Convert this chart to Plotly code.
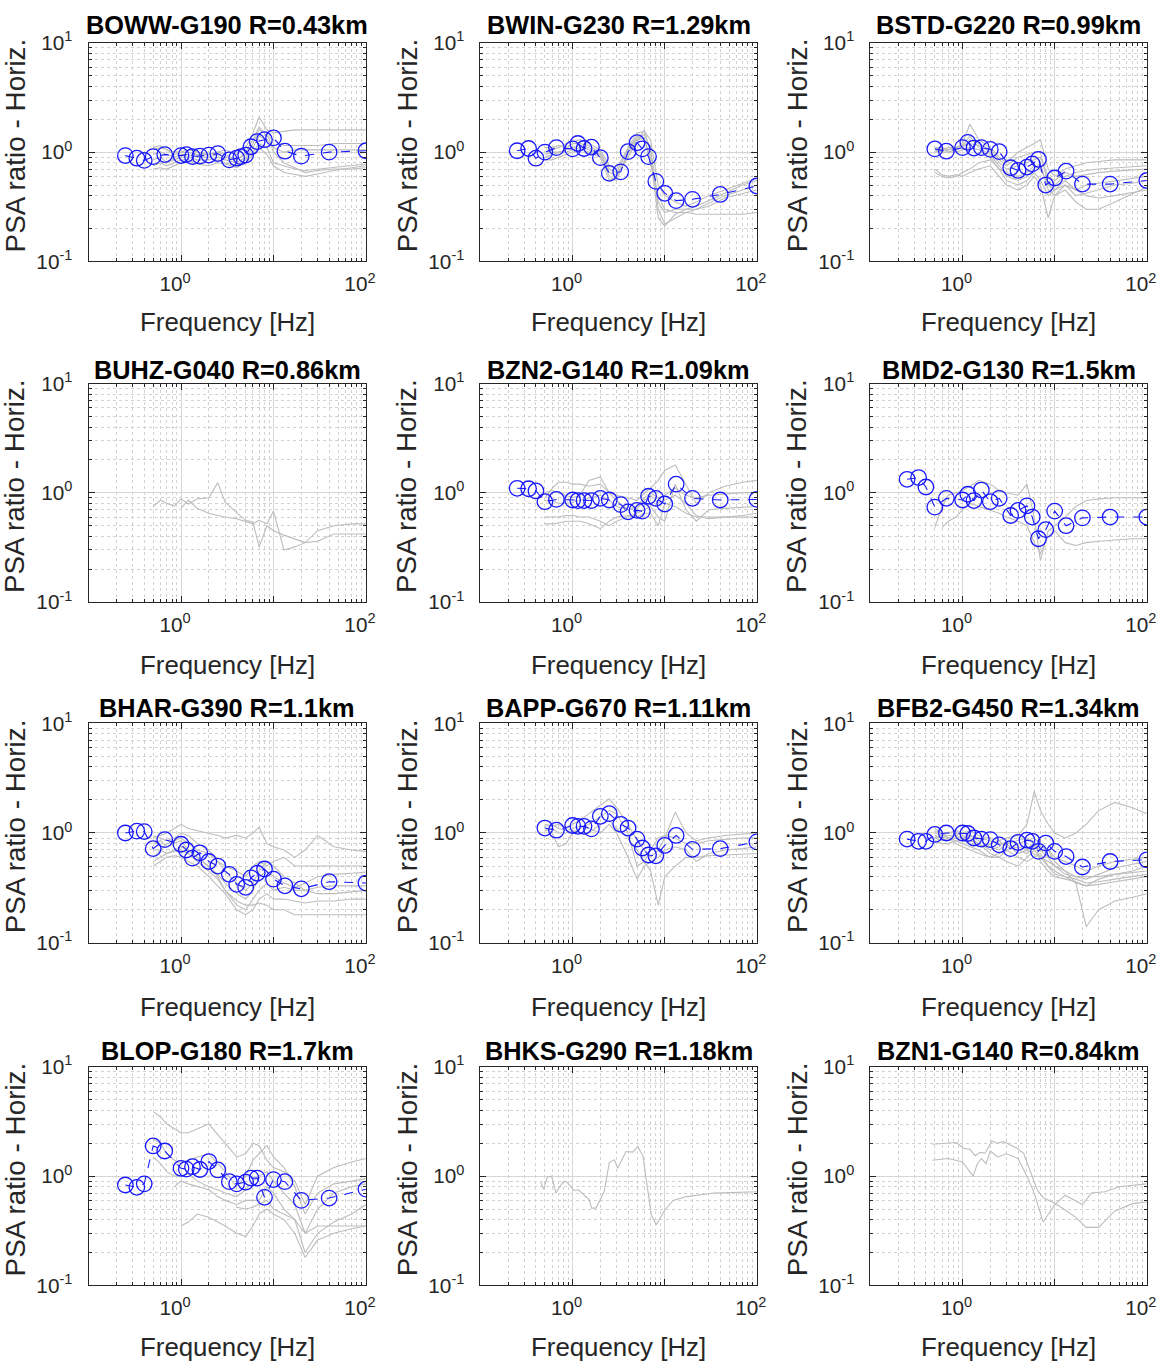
import plotly.graph_objects as go

# The page is photographed as a 1190x1385 area (8 px body margin) scaled to 1174x1369,
# so picture positions are converted to figure positions below.
W, H = 1174, 1369
PAD = 8
SX, SY = (W + 2 * PAD) / W, (H + 2 * PAD) / H
FS = 1.0136   # font compensation for the same scaling

# ---------------- data ----------------
# frequencies [Hz] of the blue mean-ratio markers
FREQ = [0.25, 0.333, 0.4, 0.5, 0.667, 1.0, 1.14, 1.33, 1.6, 2.0, 2.5, 3.33, 4.0, 4.44,
        5.0, 5.71, 6.67, 8.0, 10.0, 13.3, 20.0, 40.0, 100.0]
# frequencies [Hz] of the grey individual-record curves
GF = [0.5, 0.6, 0.7, 0.85, 1.0, 1.2, 1.5, 2.0, 2.5, 3.0, 4.0, 5.0, 6.0, 7.0, 8.5, 10.0,
      13.0, 17.0, 22.0, 30.0, 45.0, 70.0, 100.0]

TITLES = ["BOWW-G190 R=0.43km", "BWIN-G230 R=1.29km", "BSTD-G220 R=0.99km",
          "BUHZ-G040 R=0.86km", "BZN2-G140 R=1.09km", "BMD2-G130 R=1.5km",
          "BHAR-G390 R=1.1km", "BAPP-G670 R=1.11km", "BFB2-G450 R=1.34km",
          "BLOP-G180 R=1.7km", "BHKS-G290 R=1.18km", "BZN1-G140 R=0.84km"]

# mean ratios (blue circles)
BOWW_MEAN = [0.93, 0.88, 0.84, 0.91, 0.95, 0.93, 0.95, 0.91, 0.92, 0.94, 0.97, 0.85, 0.88, 0.91,
             0.94, 1.12, 1.25, 1.3, 1.35, 1.02, 0.92, 1.0, 1.03]
BWIN_MEAN = [1.03, 1.08, 0.88, 1.0, 1.1, 1.07, 1.2, 1.08, 1.11, 0.89, 0.64, 0.66, 1.01, None,
             1.22, 1.07, 0.91, 0.54, 0.42, 0.36, 0.37, 0.41, 0.49]
BSTD_MEAN = [None, None, None, 1.07, 1.02, 1.1, 1.23, 1.09, 1.1, 1.06, 1.01, 0.72, 0.68, None,
             0.73, 0.78, 0.86, 0.5, 0.58, 0.67, 0.51, 0.51, 0.55]
BZN2_MEAN = [1.1, 1.09, 1.04, 0.83, 0.87, 0.86, 0.85, 0.85, 0.85, 0.89, 0.86, 0.78, 0.67, None,
             0.69, 0.68, 0.93, 0.89, 0.79, 1.2, 0.89, 0.86, 0.87]
BMD2_MEAN = [1.33, 1.38, 1.13, 0.74, 0.89, 0.86, 0.97, 0.85, 1.06, 0.83, 0.89, 0.62, 0.69, None,
             0.76, 0.6, 0.38, 0.46, 0.68, 0.5, 0.59, 0.6, 0.6]
BHAR_MEAN = [1.0, 1.04, 1.03, 0.72, 0.87, 0.79, 0.70, 0.59, 0.66, 0.55, 0.5, 0.42, 0.34, None,
             0.32, 0.39, 0.43, 0.47, 0.38, 0.33, 0.31, 0.36, 0.35]
BAPP_MEAN = [None, None, None, 1.11, 1.06, 1.17, 1.15, 1.15, 1.09, 1.42, 1.5, 1.2, 1.11, None,
             0.88, 0.73, 0.63, 0.62, 0.77, 0.95, 0.71, 0.72, 0.83]
BFB2_MEAN = [0.88, 0.84, 0.84, 0.97, 1.0, 1.0, 0.99, 0.9, 0.88, 0.87, 0.78, 0.72, 0.82, None,
             0.86, 0.84, 0.68, 0.81, 0.68, 0.61, 0.49, 0.55, 0.57]
BLOP_MEAN = [0.83, 0.79, 0.85, 1.89, 1.7, 1.18, 1.16, 1.22, 1.15, 1.36, 1.14, 0.89, 0.85, None,
             0.88, 0.96, 0.96, 0.64, 0.93, 0.89, 0.6, 0.63, 0.76]

# grey curves (on GF)
BOWW_G1 = [1.05, 1.1, 1.05, 1.0, 1.0, 1.05, 1.0, 0.95, 1.0, 1.05, 0.95, 1.1, 1.5, 2.1, 1.6, 1.5, 1.55, 1.6, 1.6, 1.6, 1.6, 1.6, 1.6]
BOWW_G2 = [0.95, 1.0, 0.95, 0.9, 0.95, 0.95, 0.9, 0.9, 0.95, 0.9, 0.85, 1.0, 1.3, 1.7, 1.4, 1.3, 1.15, 1.15, 1.15, 1.15, 1.2, 1.2, 1.2]
BOWW_G3 = [0.85, 0.9, 0.8, 0.85, 0.9, 0.9, 0.85, 0.85, 0.9, 0.85, 0.8, 0.9, 1.1, 1.4, 1.3, 1.1, 1.0, 1.05, 1.05, 1.05, 1.05, 1.05, 1.05]
BOWW_G4 = [0.75, 0.8, 0.75, 0.8, 0.85, 0.85, 0.8, 0.8, 0.85, 0.8, 0.75, 0.85, 1.0, 1.2, 1.1, 0.8, 0.75, 0.7, 0.68, 0.7, 0.72, 0.75, 0.78]
BOWW_G5 = [0.7, 0.72, 0.7, 0.75, 0.8, 0.8, 0.78, 0.75, 0.8, 0.78, 0.72, 0.8, 0.95, 1.1, 0.95, 0.75, 0.65, 0.62, 0.6, 0.63, 0.68, 0.72, 0.75]
BOWW_G6 = [1.1, 1.15, 1.05, 0.95, 1.0, 1.0, 0.95, 0.95, 1.0, 0.95, 0.85, 0.95, 1.2, 1.6, 1.5, 1.0, 0.8, 0.72, 0.65, 0.68, 0.7, 0.7, 0.72]

BWIN_G1 = [1.0, 1.05, 1.1, 1.2, 1.25, 1.3, 1.2, 1.05, 0.75, 0.7, 1.1, 1.5, 1.55, 1.3, 0.5, 0.4, 0.35, 0.32, 0.35, 0.4, 0.45, 0.52, 0.58]
BWIN_G2 = [0.9, 0.95, 1.0, 1.05, 1.1, 1.15, 1.1, 0.95, 0.6, 0.55, 1.0, 1.35, 1.45, 1.1, 0.35, 0.28, 0.3, 0.3, 0.32, 0.36, 0.42, 0.5, 0.55]
BWIN_G3 = [0.85, 0.85, 0.9, 0.95, 1.0, 1.05, 1.0, 0.9, 0.55, 0.6, 0.9, 1.25, 1.6, 1.0, 0.3, 0.22, 0.25, 0.28, 0.3, 0.34, 0.4, 0.45, 0.5]
BWIN_G4 = [1.1, 1.1, 1.15, 1.1, 1.2, 1.2, 1.15, 1.0, 0.7, 0.65, 1.05, 1.4, 1.3, 0.9, 0.25, 0.21, 0.27, 0.3, 0.3, 0.32, 0.38, 0.42, 0.45]
BWIN_G5 = [0.95, 1.0, 1.0, 1.0, 1.05, 1.1, 1.05, 0.95, 0.65, 0.62, 0.95, 1.3, 1.35, 0.8, 0.4, 0.3, 0.28, 0.28, 0.27, 0.27, 0.27, 0.27, 0.28]

BSTD_G1 = [1.1, 1.1, 1.05, 1.1, 1.2, 1.8, 1.3, 1.1, 0.9, 0.8, 1.0, 1.1, 1.2, 1.3, 0.7, 0.6, 0.7, 0.75, 0.8, 0.82, 0.85, 0.85, 0.85]
BSTD_G2 = [1.05, 1.0, 1.0, 1.05, 1.1, 1.3, 1.2, 1.05, 0.85, 0.75, 0.9, 0.95, 1.0, 1.0, 0.5, 0.5, 0.6, 0.65, 0.68, 0.7, 0.72, 0.74, 0.75]
BSTD_G3 = [1.0, 1.05, 1.1, 1.1, 1.15, 1.2, 1.15, 1.0, 0.8, 0.7, 0.75, 0.8, 0.85, 0.9, 0.6, 0.55, 0.65, 0.6, 0.62, 0.65, 0.67, 0.69, 0.7]
BSTD_G4 = [0.7, 0.62, 0.6, 0.62, 0.6, 0.65, 0.7, 0.75, 0.6, 0.5, 0.45, 0.5, 0.6, 0.5, 0.25, 0.4, 0.5, 0.45, 0.5, 0.52, 0.55, 0.58, 0.6]
BSTD_G5 = [0.65, 0.6, 0.58, 0.6, 0.65, 0.7, 0.8, 0.85, 0.7, 0.55, 0.5, 0.55, 0.65, 0.55, 0.4, 0.45, 0.5, 0.4, 0.42, 0.45, 0.5, 0.52, 0.55]
BSTD_G6 = [1.1, 1.05, 1.05, 1.1, 1.15, 1.4, 1.1, 0.95, 0.75, 0.6, 0.55, 0.6, 0.7, 0.8, 0.45, 0.4, 0.45, 0.35, 0.3, 0.3, 0.35, 0.42, 0.48]
BSTD_G7 = [1.05, 1.1, 1.0, 1.0, 1.05, 1.1, 1.05, 0.9, 0.7, 0.65, 0.6, 0.65, 0.75, 0.7, 0.5, 0.45, 0.55, 0.45, 0.4, 0.38, 0.4, 0.43, 0.45]

BUHZ_G1 = [0.75, 0.86, 0.8, 0.76, 0.88, 0.79, 0.88, 0.9, 1.24, 0.82, 0.66, 0.56, 0.54, 0.32, 0.5, 0.45, 0.41, 0.38, 0.35, 0.36, 0.42, 0.42, 0.42]
BUHZ_G2 = [None, None, None, None, 0.72, 0.86, 0.72, 0.65, 0.62, 0.6, 0.58, 0.55, 0.52, 0.56, 0.52, 0.68, 0.3, 0.32, 0.35, 0.45, 0.5, 0.52, 0.52]

BZN2_G1 = [0.9, 1.1, 1.25, 1.25, 1.2, 1.2, 1.15, 1.2, 1.0, 0.95, 0.9, 0.85, 1.0, 1.1, 1.3, 1.6, 1.8, 1.2, 0.8, 1.0, 1.15, 1.25, 1.3]
BZN2_G2 = [1.0, 1.05, 1.0, 0.95, 0.9, 0.95, 1.3, 1.4, 1.0, 0.85, 0.7, 0.75, 0.9, 1.0, 0.9, 0.95, 1.1, 0.95, 0.9, 0.95, 0.98, 1.0, 1.0]
BZN2_G3 = [0.6, 0.6, 0.6, 0.62, 0.62, 0.6, 0.6, 0.55, 0.5, 0.55, 0.6, 0.65, 0.7, 0.75, 0.6, 0.55, 1.2, 0.7, 0.55, 0.7, 0.72, 0.74, 0.75]
BZN2_G4 = [0.52, 0.52, 0.53, 0.55, 0.55, 0.55, 0.52, 0.47, 0.55, 0.6, 0.62, 0.6, 0.65, 0.65, 0.5, 0.8, 0.75, 0.65, 0.6, 0.6, 0.6, 0.6, 0.6]
BZN2_G5 = [0.85, 0.85, 0.8, 0.8, 0.82, 0.85, 0.9, 0.95, 0.85, 0.75, 0.7, 0.72, 0.85, 0.95, 0.8, 0.85, 0.95, 0.8, 0.62, 0.58, 0.6, 0.62, 0.65]

BMD2_G1 = [0.48, 0.75, 0.95, 1.0, 1.05, 1.15, 1.3, 1.2, 1.05, 1.0, 0.95, 1.2, 0.6, 0.24, 0.45, 0.5, 0.6, 0.75, 0.85, 0.88, 0.9, 0.9, 0.9]
BMD2_G2 = [None, 0.48, 0.55, 0.6, 0.7, 0.8, 0.75, 0.7, 0.65, 0.6, 0.55, 0.5, 0.35, 0.28, 0.4, 0.45, 0.35, 0.33, 0.35, 0.36, 0.37, 0.38, 0.38]

BHAR_G1 = [0.9, 0.95, 1.0, 1.1, 1.2, 1.1, 1.05, 1.0, 0.95, 0.9, 0.95, 0.9, 1.0, 1.13, 0.8, 0.75, 0.7, 0.6, 0.7, 0.95, 0.75, 0.7, 0.68]
BHAR_G2 = [0.6, 0.7, 0.8, 0.85, 0.9, 0.8, 0.7, 0.65, 0.55, 0.5, 0.45, 0.4, 0.5, 0.55, 0.5, 0.55, 0.6, 0.5, 0.5, 0.5, 0.5, 0.5, 0.5]
BHAR_G3 = [0.55, 0.6, 0.65, 0.7, 0.75, 0.7, 0.6, 0.5, 0.42, 0.35, 0.28, 0.25, 0.3, 0.4, 0.45, 0.4, 0.35, 0.32, 0.35, 0.4, 0.42, 0.43, 0.44]
BHAR_G4 = [0.8, 0.85, 0.75, 0.8, 0.85, 0.7, 0.6, 0.5, 0.4, 0.3, 0.22, 0.2, 0.25, 0.3, 0.35, 0.3, 0.32, 0.3, 0.3, 0.32, 0.33, 0.33, 0.33]
BHAR_G5 = [0.5, 0.55, 0.6, 0.62, 0.6, 0.55, 0.5, 0.4, 0.33, 0.28, 0.2, 0.18, 0.2, 0.25, 0.28, 0.25, 0.25, 0.24, 0.23, 0.24, 0.24, 0.25, 0.25]
BHAR_G6 = [0.7, 0.7, 0.65, 0.68, 0.7, 0.65, 0.55, 0.45, 0.38, 0.3, 0.24, 0.22, 0.22, 0.23, 0.22, 0.2, 0.2, 0.18, 0.18, 0.18, 0.18, 0.18, 0.18]
BHAR_G7 = [0.95, 0.9, 0.85, 0.9, 1.0, 0.95, 0.8, 0.7, 0.55, 0.45, 0.35, 0.3, 0.35, 0.45, 0.55, 0.5, 0.4, 0.35, 0.3, 0.28, 0.28, 0.29, 0.3]

BAPP_G1 = [1.2, 1.15, 1.2, 1.1, 1.2, 1.3, 1.5, 1.8, 2.05, 1.7, 1.2, 0.85, 0.7, 0.6, 0.7, 0.9, 1.55, 1.0, 0.85, 0.9, 0.95, 0.98, 1.0]
BAPP_G2 = [1.1, 1.0, 0.75, 0.8, 1.0, 1.1, 1.2, 1.4, 1.6, 1.5, 1.0, 0.5, 0.55, 0.7, 0.9, 0.95, 0.9, 0.8, 0.8, 0.85, 0.88, 0.9, 0.9]
BAPP_G3 = [1.15, 1.2, 1.1, 1.05, 1.1, 1.15, 1.1, 1.0, 1.2, 1.0, 0.6, 0.38, 0.5, 0.55, 0.6, 0.7, 0.75, 0.7, 0.55, 0.65, 0.7, 0.72, 0.75]
BAPP_G4 = [1.05, 1.1, 1.0, 1.0, 1.05, 1.0, 1.0, 1.2, 1.3, 1.1, 0.9, 0.7, 0.55, 0.45, 0.22, 0.4, 0.5, 0.6, 0.6, 0.62, 0.63, 0.64, 0.65]

BFB2_G1 = [1.0, 0.95, 1.0, 1.05, 1.0, 1.05, 0.95, 0.9, 0.85, 0.9, 0.95, 1.2, 2.4, 1.6, 1.2, 1.0, 0.9, 1.0, 1.2, 1.6, 1.9, 1.7, 1.5]
BFB2_G2 = [0.9, 0.85, 0.9, 0.95, 1.0, 0.95, 0.85, 0.75, 0.7, 0.8, 0.85, 0.9, 0.8, 0.75, 0.7, 0.55, 0.45, 0.35, 0.14, 0.2, 0.24, 0.26, 0.28]
BFB2_G3 = [1.05, 1.0, 1.0, 1.0, 0.95, 0.9, 0.8, 0.7, 0.75, 0.85, 0.8, 0.85, 0.9, 0.8, 0.7, 0.6, 0.55, 0.5, 0.45, 0.5, 0.55, 0.58, 0.6]
BFB2_G4 = [0.95, 0.9, 0.85, 0.9, 0.9, 0.85, 0.8, 0.65, 0.6, 0.7, 0.75, 0.7, 0.65, 0.6, 0.55, 0.5, 0.45, 0.4, 0.38, 0.42, 0.48, 0.52, 0.55]
BFB2_G5 = [0.85, 0.8, 0.8, 0.85, 0.8, 0.75, 0.7, 0.6, 0.65, 0.7, 0.6, 0.55, 0.6, 0.65, 0.5, 0.45, 0.4, 0.35, 0.33, 0.38, 0.42, 0.45, 0.5]
BFB2_G6 = [1.1, 1.0, 0.9, 0.85, 0.85, 0.8, 0.75, 0.8, 0.85, 0.75, 0.7, 0.65, 0.75, 0.7, 0.6, 0.5, 0.42, 0.4, 0.4, 0.4, 0.42, 0.44, 0.45]
BFB2_G7 = [0.9, 0.95, 0.9, 0.8, 0.75, 0.7, 0.65, 0.6, 0.6, 0.55, 0.5, 0.6, 0.7, 0.6, 0.5, 0.42, 0.4, 0.38, 0.35, 0.36, 0.38, 0.4, 0.42]
BFB2_G8 = [0.95, 0.9, 0.95, 0.95, 0.9, 0.95, 0.9, 0.85, 0.8, 0.8, 0.65, 0.7, 0.85, 0.55, 0.45, 0.4, 0.38, 0.36, 0.33, 0.34, 0.36, 0.38, 0.4]

BLOP_G1 = [3.9, 3.5, 3.0, 2.7, 2.5, 2.5, 2.7, 3.0, 2.4, 2.0, 1.5, 1.6, 2.0, 1.9, 1.4, 1.2, 1.1, 0.9, 0.55, 1.0, 1.2, 1.35, 1.45]
BLOP_G2 = [2.2, 2.0, 1.6, 1.4, 1.3, 1.4, 1.5, 1.6, 1.3, 1.1, 0.8, 1.0, 1.4, 1.6, 1.9, 1.5, 1.2, 0.8, 0.45, 0.7, 0.85, 0.9, 0.95]
BLOP_G3 = [1.5, 1.3, 1.1, 1.0, 1.0, 1.05, 0.9, 0.8, 0.75, 0.7, 0.65, 0.75, 0.9, 1.0, 1.1, 0.9, 0.7, 0.55, 0.3, 0.5, 0.7, 0.8, 0.85]
BLOP_G4 = [None, None, None, 0.8, 0.9, 0.85, 0.8, 0.75, 0.65, 0.6, 0.55, 0.6, 0.6, 0.6, 0.8, 0.7, 0.5, 0.4, 0.2, 0.3, 0.38, 0.45, 0.55]
BLOP_G5 = [None, None, None, None, 0.35, 0.38, 0.45, 0.42, 0.38, 0.35, 0.3, 0.28, 0.35, 0.45, 0.5, 0.45, 0.4, 0.3, 0.18, 0.26, 0.3, 0.33, 0.35]
BLOP_G6 = [None, None, None, None, None, None, None, None, None, None, 0.52, 0.5, 0.52, 0.55, 0.6, 0.5, 0.45, 0.4, 0.3, 0.35, 0.35, 0.35, 0.35]

# single-record stations (own frequency samples)
BHKS_F = [0.45, 0.485, 0.53, 0.59, 0.66, 0.71, 0.8, 0.87, 1.03, 1.15, 1.51, 1.61, 1.79, 2.2, 2.5,
          2.84, 3.08, 3.8, 4.5, 5.1, 5.8, 6.6, 7.15, 8.1, 10.0, 12.3, 17.3, 34.0, 100.0]
BHKS_V = [0.88, 0.76, 0.98, 1.0, 0.7, 0.78, 0.9, 0.88, 0.74, 0.75, 0.61, 0.51, 0.51, 0.72, 1.33,
          1.41, 1.18, 1.68, 1.66, 1.86, 1.53, 0.68, 0.44, 0.36, 0.49, 0.6, 0.65, 0.7, 0.72]
BZN1_F1 = [0.47, 0.62, 0.86, 1.02, 1.2, 1.37, 1.55, 1.76, 2.08, 2.36, 2.79, 3.3, 3.9, 4.6, 5.45,
           6.45, 7.6, 9.8, 12.5, 17.0, 22.0, 30.0, 45.0, 70.0, 100.0]
BZN1_V1 = [1.96, 2.0, 2.03, 1.8, 1.76, 1.54, 1.65, 1.62, 2.1, 2.0, 2.07, 1.93, 1.8, 1.62, 1.1,
           0.75, 0.63, 0.57, 0.5, 0.42, 0.34, 0.34, 0.48, 0.56, 0.58]
BZN1_F2 = [0.47, 0.7, 1.0, 1.3, 1.45, 1.6, 1.8, 2.0, 2.4, 3.0, 4.0, 5.0, 6.0, 7.5, 10.0, 13.0,
           20.0, 25.0, 35.0, 50.0, 100.0]
BZN1_V2 = [1.4, 1.45, 1.35, 1.0, 1.3, 1.45, 1.3, 1.7, 1.5, 1.6, 1.45, 1.0, 0.7, 0.38, 0.55, 0.67,
           0.55, 0.7, 0.72, 0.8, 0.85]

PANELS = [
    (BOWW_MEAN, [(GF, g) for g in (BOWW_G1, BOWW_G2, BOWW_G3, BOWW_G4, BOWW_G5, BOWW_G6)]),
    (BWIN_MEAN, [(GF, g) for g in (BWIN_G1, BWIN_G2, BWIN_G3, BWIN_G4, BWIN_G5)]),
    (BSTD_MEAN, [(GF, g) for g in (BSTD_G1, BSTD_G2, BSTD_G3, BSTD_G4, BSTD_G5, BSTD_G6, BSTD_G7)]),
    (None, [(GF, g) for g in (BUHZ_G1, BUHZ_G2)]),
    (BZN2_MEAN, [(GF, g) for g in (BZN2_G1, BZN2_G2, BZN2_G3, BZN2_G4, BZN2_G5)]),
    (BMD2_MEAN, [(GF, g) for g in (BMD2_G1, BMD2_G2)]),
    (BHAR_MEAN, [(GF, g) for g in (BHAR_G1, BHAR_G2, BHAR_G3, BHAR_G4, BHAR_G5, BHAR_G6, BHAR_G7)]),
    (BAPP_MEAN, [(GF, g) for g in (BAPP_G1, BAPP_G2, BAPP_G3, BAPP_G4)]),
    (BFB2_MEAN, [(GF, g) for g in (BFB2_G1, BFB2_G2, BFB2_G3, BFB2_G4, BFB2_G5, BFB2_G6, BFB2_G7, BFB2_G8)]),
    (BLOP_MEAN, [(GF, g) for g in (BLOP_G1, BLOP_G2, BLOP_G3, BLOP_G4, BLOP_G5, BLOP_G6)]),
    (None, [(BHKS_F, BHKS_V)]),
    (None, [(BZN1_F1, BZN1_V1), (BZN1_F2, BZN1_V2)]),
]

X_TICKVALS = [0.1, 1, 10, 100]
X_TICKTEXT = ["", "10<sup>0</sup>", "", "10<sup>2</sup>"]
Y_TICKVALS = [0.1, 1, 10]
Y_TICKTEXT = ["10<sup>-1</sup>", "10<sup>0</sup>", "10<sup>1</sup>"]
MINOR_VALS = [m * 10 ** e for e in (-1, 0, 1) for m in range(2, 10)]

# ---------------- layout (pixel positions in the picture) ----------------
COL_X = [(96, 372), (486, 761), (874, 1149)]
ROW_Y = [(37, 257), (380, 600), (722, 943), (1068, 1288)]
TITLE_Y = [19, 366, 707, 1052]
XLABEL_Y = [318, 663, 1008, 1350]


def px(x):
    return (x * SX - PAD) / W


def py(y):
    return 1 - (y * SY - PAD) / H


FONT = "Liberation Sans, Arial, Helvetica, sans-serif"
AX_COL = "#262626"
GREY = "#bdbdbd"
BLUE = "rgb(25,25,255)"

fig = go.Figure()
annotations = []
layout = {}

for i, (mean, greys) in enumerate(PANELS):
    r, c = divmod(i, 3)
    x0, x1 = COL_X[c]
    y0, y1 = ROW_Y[r]
    n = "" if i == 0 else str(i + 1)
    xa, ya = "x" + n, "y" + n
    for fx, gv in greys:
        fig.add_trace(go.Scatter(x=fx, y=gv, mode="lines", xaxis=xa, yaxis=ya,
                                 line=dict(color=GREY, width=1.1), connectgaps=False,
                                 showlegend=False, hoverinfo="skip"))
    if mean is not None:
        fig.add_trace(go.Scatter(x=FREQ, y=mean, mode="lines+markers", xaxis=xa, yaxis=ya,
                                 connectgaps=True,
                                 line=dict(color=BLUE, width=1.1, dash="dash"),
                                 marker=dict(symbol="circle-open", size=15.5,
                                             line=dict(color=BLUE, width=1.3)),
                                 showlegend=False))
    common = dict(type="log", showline=True, mirror="ticks", linecolor=AX_COL, linewidth=1,
                  ticks="inside", ticklen=6, tickcolor=AX_COL, tickwidth=1,
                  showgrid=True, gridcolor="#d6d6d6", gridwidth=1, zeroline=False,
                  tickfont=dict(family=FONT, size=20.5 * FS, color=AX_COL),
                  minor=dict(tickvals=MINOR_VALS, ticks="inside", ticklen=3, tickcolor=AX_COL,
                             showgrid=True, gridcolor="#d2d2d2", griddash="dot", gridwidth=1))
    layout["xaxis" + n] = dict(common, domain=[px(x0), px(x1)], anchor=ya, range=[-1, 2],
                               tickvals=X_TICKVALS, ticktext=X_TICKTEXT, ticklabelstandoff=4,
                               ticklabelshift=-6)
    layout["yaxis" + n] = dict(common, domain=[py(y1), py(y0)], anchor=xa, range=[-1, 1],
                               tickvals=Y_TICKVALS, ticktext=Y_TICKTEXT, ticklabelstandoff=11)
    cx = px((x0 + x1) / 2)
    annotations.append(dict(text="<b>" + TITLES[i] + "</b>", x=cx, y=py(TITLE_Y[r]),
                            xref="paper", yref="paper", showarrow=False, xanchor="center",
                            yanchor="middle", font=dict(family=FONT, size=25 * FS, color="#000000")))
    annotations.append(dict(text="Frequency [Hz]", x=cx, y=py(XLABEL_Y[r]),
                            xref="paper", yref="paper", showarrow=False, xanchor="center",
                            yanchor="middle", font=dict(family=FONT, size=25.5 * FS, color=AX_COL)))
    annotations.append(dict(text="PSA ratio - Horiz.", x=px(x0 - 73), y=py((y0 + y1) / 2 - 7),
                            xref="paper", yref="paper", showarrow=False, textangle=-90,
                            xanchor="center", yanchor="middle",
                            font=dict(family=FONT, size=27.5 * FS, color=AX_COL)))

fig.update_layout(width=W, height=H, autosize=False, margin=dict(l=0, r=0, t=0, b=0),
                  paper_bgcolor="white", plot_bgcolor="white", annotations=annotations,
                  font=dict(family=FONT), **layout)

fig.write_html("out.html")
